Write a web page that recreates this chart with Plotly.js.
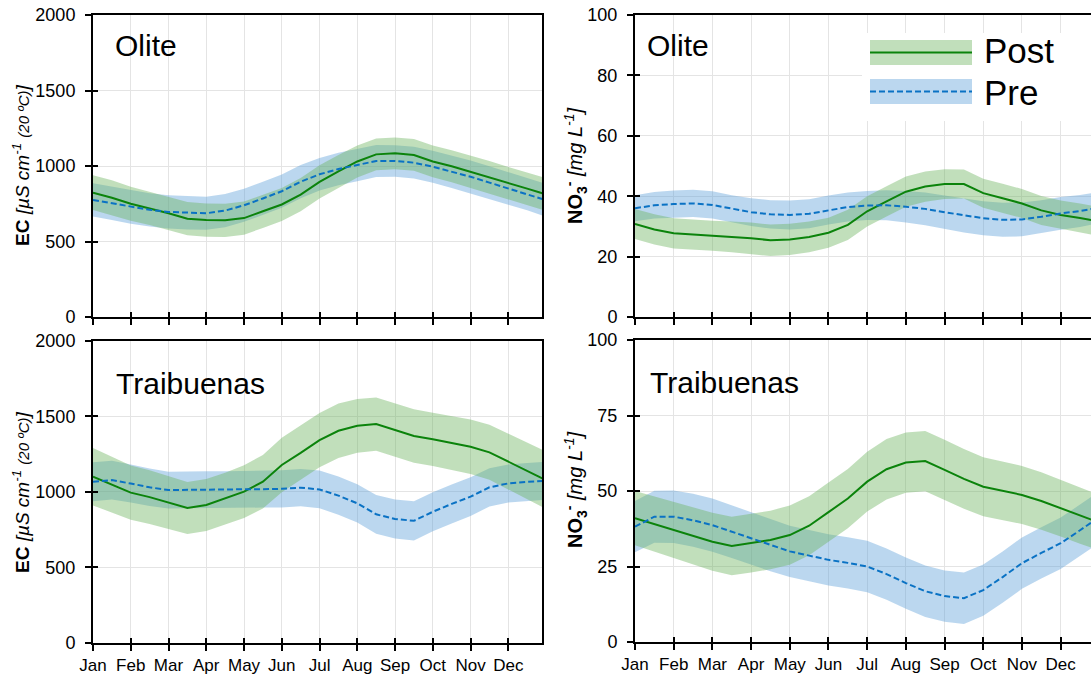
<!DOCTYPE html>
<html>
<head>
<meta charset="utf-8">
<script src="https://cdn.plot.ly/plotly-3.0.1.min.js"></script>
<style>
html, body { margin:0; padding:0; overflow:hidden; background:#fff; }
#chart { width:1100px; height:679px; }
</style>
</head>
<body>
<div id="chart"></div>
<script>
// ---- Data (month position, 0 = 1 Jan) ----
const monthLabels = ["Jan","Feb","Mar","Apr","May","Jun","Jul","Aug","Sep","Oct","Nov","Dec"];
const monthTicks = [0,1,2,3,4,5,6,7,8,9,10,11];
const xPos = [0,0.5,1,1.5,2,2.5,3,3.5,4,4.5,5,5.5,6,6.5,7,7.5,8,8.5,9,9.5,10,10.5,11,11.5,11.9];

// EC Olite
const olitePostEC   = [823,790,750,720,687,651,642,640,655,700,745,810,895,965,1030,1077,1084,1073,1030,998,962,925,885,850,819];
const olitePostECsd = [115,115,112,110,110,110,110,110,110,110,110,110,110,108,106,105,105,105,105,106,108,108,108,108,108];
const olitePreEC    = [775,752,728,710,696,690,687,705,740,785,833,896,945,980,1007,1033,1033,1022,995,962,929,890,852,815,781];
const olitePreECsd  = [110,110,110,110,110,110,110,110,110,110,110,110,108,108,108,106,105,105,106,107,108,108,108,108,108];

// NO3 Olite
const olitePostNO3   = [30.8,29.0,27.7,27.2,26.9,26.5,26.1,25.4,25.7,26.5,27.9,30.5,35.0,38.3,41.5,43.2,44.0,44.0,41.0,39.3,37.6,35.3,33.8,32.8,31.8];
const olitePostNO3sd = [5,5,5,5,5,5.1,5.2,5.2,5.2,5.1,5,5,5,5,5,5,4.9,4.8,4.8,4.8,4.8,4.8,4.8,4.8,4.8];
const olitePreNO3    = [36.0,37.0,37.4,37.6,37.1,35.8,34.7,34.0,33.8,34.2,35.4,36.4,36.9,37.0,36.5,35.8,34.7,33.6,32.7,32.2,32.3,33.2,34.3,35.1,36.0];
const olitePreNO3sd  = [4.3,4.4,4.5,4.5,4.5,4.5,4.6,4.7,4.8,4.8,4.8,4.8,4.8,5.0,5.2,5.4,5.5,5.6,5.6,5.6,5.6,5.5,5.4,5.3,5.2];

// EC Traibuenas
const traibPostEC   = [1100,1050,995,965,930,893,913,955,1001,1067,1178,1258,1343,1405,1438,1449,1410,1370,1348,1325,1299,1262,1200,1140,1089];
const traibPostECsd = [190,185,180,178,175,172,172,172,175,178,180,180,180,180,178,177,177,177,177,178,180,182,185,188,190];
const traibPreEC    = [1067,1078,1055,1030,1012,1012,1015,1015,1017,1018,1020,1028,1016,975,924,851,820,808,868,920,968,1030,1056,1066,1072];
const traibPreECsd  = [130,128,126,124,122,121,121,121,121,122,123,124,125,126,127,128,129,130,130,129,128,127,126,126,126];

// NO3 Traibuenas
const traibPostNO3   = [41.0,39.0,37.1,35.2,33.2,31.8,32.7,33.8,35.4,38.5,43.0,47.5,53.1,57.2,59.4,59.9,57.0,54.0,51.4,50.0,48.7,46.7,44.3,41.8,40.0];
const traibPostNO3sd = [9.0,9.2,9.4,9.5,9.6,9.7,9.7,9.7,9.8,9.8,9.8,9.8,9.9,10,10,10,10,9.9,9.8,9.7,9.6,9.5,9.4,9.3,9.2];
const traibPreNO3    = [38.2,41.5,41.5,40.3,38.7,36.5,34.3,32.0,30.0,28.6,27.2,26.2,25.0,22.5,19.5,16.8,15.2,14.5,17.2,21.5,26.1,29.5,32.7,37.0,40.5];
const traibPreNO3sd  = [8.5,8.6,8.7,8.8,8.8,8.7,8.6,8.6,8.5,8.5,8.5,8.5,8.5,8.5,8.5,8.5,8.5,8.5,8.5,8.5,8.5,8.5,8.5,8.5,8.5];

// ---- Styling ----
const W = 1100, H = 679;
const px = v => v / W;
const py = v => 1 - v / H;
const GREEN = '#0b830b', BLUE = '#0a72c4';
const GREEN_FILL = 'rgba(108,178,92,0.42)', BLUE_FILL = 'rgba(92,160,218,0.42)';
const FONT = 'Liberation Sans, Arial, sans-serif';

function band(xs, mean, sd, color, xa, ya) {
  const up = mean.map((m, i) => m + sd[i]);
  const lo = mean.map((m, i) => m - sd[i]);
  return {
    x: xs.concat(xs.slice().reverse()),
    y: up.concat(lo.slice().reverse()),
    xaxis: xa, yaxis: ya, type: 'scatter', mode: 'lines',
    fill: 'toself', fillcolor: color, line: {width: 0},
    hoverinfo: 'skip', showlegend: false
  };
}
function line(xs, mean, color, dash, xa, ya, name) {
  return {
    x: xs, y: mean, xaxis: xa, yaxis: ya, type: 'scatter', mode: 'lines', name: name,
    line: {color: color, width: 2, dash: dash}, showlegend: false
  };
}

const panels = [
  {xa:'x',  ya:'y',  post:olitePostEC,  postSd:olitePostECsd,  pre:olitePreEC,  preSd:olitePreECsd},
  {xa:'x2', ya:'y2', post:olitePostNO3, postSd:olitePostNO3sd, pre:olitePreNO3, preSd:olitePreNO3sd},
  {xa:'x3', ya:'y3', post:traibPostEC,  postSd:traibPostECsd,  pre:traibPreEC,  preSd:traibPreECsd},
  {xa:'x4', ya:'y4', post:traibPostNO3, postSd:traibPostNO3sd, pre:traibPreNO3, preSd:traibPreNO3sd}
];
const traces = [];
panels.forEach(p => {
  traces.push(band(xPos, p.pre, p.preSd, BLUE_FILL, p.xa, p.ya));
  traces.push(band(xPos, p.post, p.postSd, GREEN_FILL, p.xa, p.ya));
});
panels.forEach(p => {
  traces.push(line(xPos, p.post, GREEN, 'solid', p.xa, p.ya, 'Post'));
  traces.push(line(xPos, p.pre, BLUE, '6px,3px', p.xa, p.ya, 'Pre'));
});
// empty traces that carry the inner half of the crossing tick marks
[5,6,7,8].forEach(i => {
  traces.push({x: [], y: [], xaxis: 'x' + i, yaxis: 'y' + i, type: 'scatter', mode: 'lines',
               showlegend: false, hoverinfo: 'skip'});
});

const axBase = {
  showline: true, linecolor: '#000', linewidth: 2, mirror: true,
  showgrid: true, gridcolor: '#e4e4e4', gridwidth: 1, zeroline: false,
  ticks: 'outside', ticklen: 6, tickwidth: 2, tickcolor: '#000',
  tickfont: {family: FONT, size: 18, color: '#000'}, fixedrange: true
};
function xAx(domain, anchor, labels) {
  return Object.assign({}, axBase, {
    domain: domain, anchor: anchor, range: [0, 11.9],
    tickmode: 'array', tickvals: monthTicks, ticktext: monthLabels,
    showticklabels: labels, tickfont: {family: FONT, size: 17, color: '#000'}
  });
}
function yAx(domain, anchor, range, dtick) {
  return Object.assign({}, axBase, {
    domain: domain, anchor: anchor, range: range, tickmode: 'linear', tick0: 0, dtick: dtick,
    ticklabelstandoff: 6
  });
}
const innerBase = {
  showline: false, showgrid: false, zeroline: false, showticklabels: false,
  ticks: 'inside', ticklen: 5, tickwidth: 2, tickcolor: '#000', fixedrange: true
};
function xIn(over, anchor) {
  return Object.assign({}, innerBase, {overlaying: over, anchor: anchor, range: [0, 11.9],
    tickmode: 'array', tickvals: monthTicks});
}
function yIn(over, anchor, range, dtick) {
  return Object.assign({}, innerBase, {overlaying: over, anchor: anchor, range: range,
    tickmode: 'linear', tick0: 0, dtick: dtick});
}

const ecTitle = '<b>EC</b> <i>[µS cm<sup>-1</sup> <span style="font-size:15px">(20 ºC)</span>]</i>';
const no3Title = '<b>NO<sub>3</sub><sup>-</sup></b> <i>[mg L<sup>-1</sup>]</i>';

const ann = (text, x, y, size, extra) => Object.assign({
  text: text, xref: 'paper', yref: 'paper', x: px(x), y: py(y),
  xanchor: 'left', yanchor: 'middle', showarrow: false,
  font: {family: FONT, size: size, color: '#000'}
}, extra || {});

const layout = {
  width: W, height: H,
  margin: {l: 0, r: 0, t: 0, b: 0},
  paper_bgcolor: '#fff', plot_bgcolor: '#fff',
  showlegend: false,
  font: {family: FONT, color: '#000'},
  xaxis:  xAx([px(93), px(542.3)], 'y', false),
  yaxis:  yAx([py(317), py(15)], 'x', [0, 2000], 500),
  xaxis2: xAx([px(635), px(1095.5)], 'y2', false),
  yaxis2: yAx([py(317), py(15)], 'x2', [0, 100], 20),
  xaxis3: xAx([px(93), px(542.3)], 'y3', true),
  yaxis3: yAx([py(642.7), py(341)], 'x3', [0, 2000], 500),
  xaxis4: xAx([px(635), px(1095.5)], 'y4', true),
  yaxis4: yAx([py(642), py(340)], 'x4', [0, 100], 25),
  xaxis5: xIn('x', 'y'),   yaxis5: yIn('y', 'x', [0, 2000], 500),
  xaxis6: xIn('x2', 'y2'), yaxis6: yIn('y2', 'x2', [0, 100], 20),
  xaxis7: xIn('x3', 'y3'), yaxis7: yIn('y3', 'x3', [0, 2000], 500),
  xaxis8: xIn('x4', 'y4'), yaxis8: yIn('y4', 'x4', [0, 100], 25),
  annotations: [
    ann('Olite', 113, 46, 30),
    ann('Traibuenas', 114, 383, 30),
    ann('Olite', 645, 46, 30),
    ann('Traibuenas', 648, 382, 30),
    ann(ecTitle, 21, 166, 19, {xanchor: 'center', textangle: -90}),
    ann(ecTitle, 21, 493, 19, {xanchor: 'center', textangle: -90}),
    ann(no3Title, 575, 166, 20, {xanchor: 'center', textangle: -90}),
    ann(no3Title, 575, 490, 20, {xanchor: 'center', textangle: -90}),
    ann('Post', 982, 51, 35),
    ann('Pre', 982, 93, 35)
  ],
  shapes: [
    {type: 'rect', xref: 'paper', yref: 'paper', x0: px(862), x1: px(1100), y0: py(121), y1: py(33),
     fillcolor: '#fff', line: {width: 0}, layer: 'above'},
    {type: 'rect', xref: 'paper', yref: 'paper', x0: px(870), x1: px(972), y0: py(65), y1: py(40),
     fillcolor: GREEN_FILL, line: {width: 0}, layer: 'above'},
    {type: 'line', xref: 'paper', yref: 'paper', x0: px(870), x1: px(972), y0: py(52.5), y1: py(52.5),
     line: {color: GREEN, width: 2}, layer: 'above'},
    {type: 'rect', xref: 'paper', yref: 'paper', x0: px(870), x1: px(972), y0: py(104), y1: py(79),
     fillcolor: BLUE_FILL, line: {width: 0}, layer: 'above'},
    {type: 'line', xref: 'paper', yref: 'paper', x0: px(870), x1: px(972), y0: py(91.5), y1: py(91.5),
     line: {color: BLUE, width: 2, dash: '6px,3px'}, layer: 'above'}
  ]
};

Plotly.newPlot('chart', traces, layout, {staticPlot: true, displayModeBar: false});
</script>
</body>
</html>
